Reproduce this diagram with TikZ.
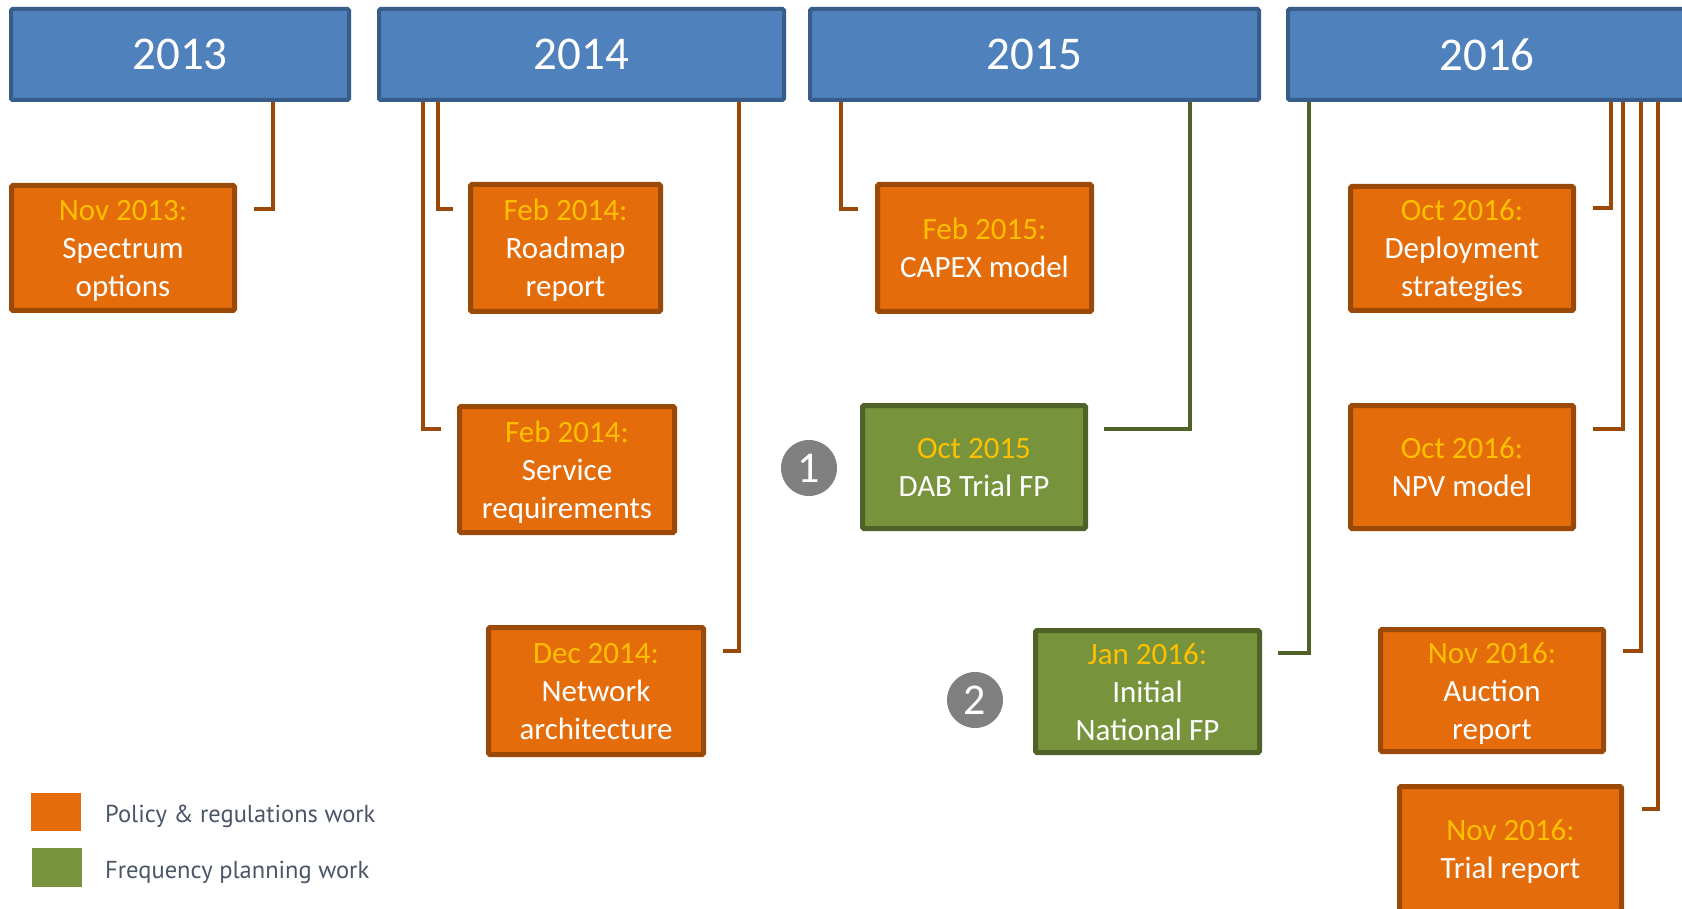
\documentclass[tikz,border=0pt]{standalone}
\usepackage{fontspec}
\setmainfont{Carlito}
\newfontfamily\legendfont{PT Sans}
\usetikzlibrary{backgrounds}
\definecolor{yearfill}{HTML}{4F81BD}
\definecolor{yearline}{HTML}{385D8A}
\definecolor{polfill}{HTML}{E46C0A}
\definecolor{polline}{HTML}{9A4A06}
\definecolor{frqfill}{HTML}{77933C}
\definecolor{frqline}{HTML}{4F6228}
\definecolor{dategold}{HTML}{FFC000}
\definecolor{numgray}{HTML}{808080}
\definecolor{legtext}{HTML}{4A5568}
\tikzset{
  yearbox/.style={draw=yearline, fill=yearfill, line width=4pt, rounded corners=1.5pt,
    inner sep=0pt, minimum height=91pt, text=white, font=\fontsize{47}{56}\selectfont},
  polbox/.style={draw=polline, fill=polfill, line width=5pt, rounded corners=1.5pt,
    inner sep=0pt, text=white, align=center, font=\fontsize{31}{38}\selectfont},
  frqbox/.style={polbox, draw=frqline, fill=frqfill},
  polconn/.style={draw=polline, line width=4.5pt, line join=miter},
  frqconn/.style={draw=frqline, line width=4.5pt, line join=miter},
  numcirc/.style={circle, fill=numgray, minimum size=56pt, inner sep=0pt, text=white,
    font=\fontsize{44}{52}\selectfont},
  legsq/.style={inner sep=0pt, minimum width=50pt, minimum height=38pt},
  legtxt/.style={anchor=west, inner sep=0pt, text=legtext, font=\legendfont\fontsize{24.5}{29}\selectfont}
}
\newcommand{\dt}[1]{\rule{0pt}{28pt}{\color{dategold}#1}}
\newcommand{\es}{\rule[-7pt]{0pt}{7pt}}
\begin{document}
\begin{tikzpicture}[x=1pt,y=-1pt]
\useasboundingbox (0,0) rectangle (1682,909);
% year boxes
\node[yearbox, minimum width=338pt] (y13) at (180,54.5) {2013};
\node[yearbox, minimum width=405pt] (y14) at (581.5,54.5) {2014};
\node[yearbox, minimum width=449pt] (y15) at (1034.5,54.5) {2015};
\node[yearbox, minimum width=398pt] (y16) at (1487,54.5) {2016};
% event boxes
\node[polbox, minimum width=223pt, minimum height=125pt] (nov13) at (123,248) {\dt{Nov 2013:}\\Spectrum\\options\es};
\node[polbox, minimum width=190pt, minimum height=127pt] (feb14a) at (565.5,248) {\dt{Feb 2014:}\\Roadmap\\report\es};
\node[polbox, minimum width=215pt, minimum height=126pt] (feb14b) at (567,469.5) {\dt{Feb 2014:}\\Service\\requirements\es};
\node[polbox, minimum width=215pt, minimum height=127pt] (dec14) at (596,691) {\dt{Dec 2014:}\\Network\\architecture\es};
\node[polbox, minimum width=214pt, minimum height=127pt] (feb15) at (984.5,248) {\dt{Feb 2015:}\\CAPEX model\es};
\node[frqbox, minimum width=223pt, minimum height=123pt] (oct15) at (974,467) {\dt{Oct 2015}\\DAB Trial FP\es};
\node[frqbox, minimum width=224pt, minimum height=122pt] (jan16) at (1147.5,691.5) {\dt{Jan 2016:}\\Initial\\National FP\es};
\node[polbox, minimum width=223pt, minimum height=124pt] (oct16a) at (1462,248.5) {\dt{Oct 2016:}\\Deployment\\strategies\es};
\node[polbox, minimum width=223pt, minimum height=123pt] (oct16b) at (1462,467) {\dt{Oct 2016:}\\NPV model\es};
\node[polbox, minimum width=223pt, minimum height=122pt] (nov16a) at (1492,690.5) {\dt{Nov 2016:}\\Auction\\report\es};
\node[polbox, minimum width=222pt, minimum height=125pt] (nov16b) at (1510.5,849) {\dt{Nov 2016:}\\Trial report\es};
% numbered circles
\node[numcirc] (n1) at (809,468) {1};
\node[numcirc] (n2) at (975,700) {2};
% connector free ends and vertical positions
\coordinate (e1) at (254,209);  \coordinate (k1) at (273,0);
\coordinate (e2) at (453,209);  \coordinate (k2) at (438,0);
\coordinate (e3) at (441,429);  \coordinate (k3) at (423,0);
\coordinate (e4) at (723,651);  \coordinate (k4) at (739,0);
\coordinate (e5) at (858,209);  \coordinate (k5) at (841,0);
\coordinate (e6) at (1104,429); \coordinate (k6) at (1190,0);
\coordinate (e7) at (1278,653); \coordinate (k7) at (1309,0);
\coordinate (e8) at (1593,208); \coordinate (k8) at (1611,0);
\coordinate (e9) at (1593,429); \coordinate (k9) at (1623,0);
\coordinate (e10) at (1623,651); \coordinate (k10) at (1641,0);
\coordinate (e11) at (1642,809); \coordinate (k11) at (1658,0);
\begin{scope}[on background layer]
\fill[white] (0,0) rectangle (1682,909);
\draw[polconn] (e1) -| (y13.south -| k1);
\draw[polconn] (e2) -| (y14.south -| k2);
\draw[polconn] (e3) -| (y14.south -| k3);
\draw[polconn] (e4) -| (y14.south -| k4);
\draw[polconn] (e5) -| (y15.south -| k5);
\draw[frqconn] (e6) -| (y15.south -| k6);
\draw[frqconn] (e7) -| (y16.south -| k7);
\draw[polconn] (e8) -| (y16.south -| k8);
\draw[polconn] (e9) -| (y16.south -| k9);
\draw[polconn] (e10) -| (y16.south -| k10);
\draw[polconn] (e11) -| (y16.south -| k11);
\end{scope}
% legend
\node[legsq, fill=polfill] (lg1) at (56,812) {};
\node[legsq, fill=frqfill, minimum height=39pt] (lg2) at (57,867.5) {};
\node[legtxt] (lt1) at (105,816) {Policy \& regulations work};
\node[legtxt] (lt2) at (105,872) {Frequency planning work};
\end{tikzpicture}
\end{document}
